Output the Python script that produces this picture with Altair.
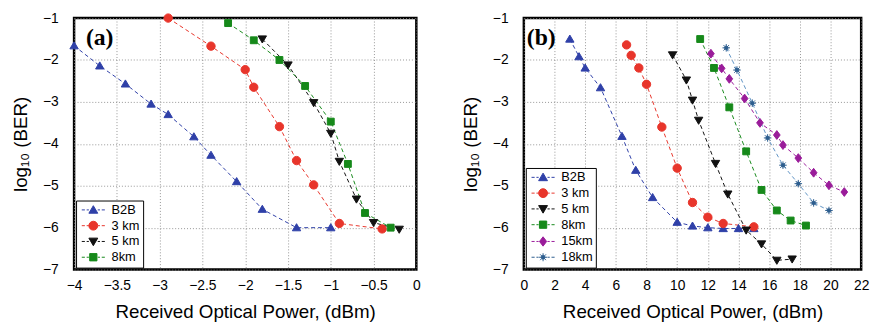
import altair as alt
import pandas as pd

# ---------------- data ----------------
series_a = ["B2B", "3 km", "5 km", "8km"]
a_b2b_x = [-4.0, -3.7, -3.4, -3.1, -2.9, -2.6, -2.4, -2.1, -1.8, -1.4, -1.0]
a_b2b_y = [-1.66, -2.14, -2.57, -3.05, -3.30, -3.83, -4.27, -4.90, -5.56, -6.00, -6.00]
a_3km_x = [-2.9, -2.4, -2.0, -1.9, -1.6, -1.4, -1.2, -0.9, -0.4]
a_3km_y = [-1.00, -1.67, -2.23, -2.65, -3.59, -4.40, -4.98, -5.90, -6.03]
a_5km_x = [-1.8, -1.5, -1.2, -1.0, -0.9, -0.7, -0.5, -0.2]
a_5km_y = [-1.50, -2.12, -3.02, -3.75, -4.42, -5.32, -5.88, -6.04]
a_8km_x = [-2.2, -1.9, -1.6, -1.3, -1.0, -0.8, -0.6, -0.3]
a_8km_y = [-1.12, -1.53, -2.00, -2.62, -3.47, -4.48, -5.65, -6.00]

series_b = ["B2B", "3 km", "5 km", "8km", "15km", "18km"]
b_b2b_x = [3.0, 3.6, 4.0, 5.0, 6.4, 7.3, 8.4, 10.0, 11.0, 12.0, 13.0, 14.0, 15.0]
b_b2b_y = [-1.50, -1.92, -2.19, -2.66, -3.82, -4.63, -5.28, -5.87, -5.96, -6.00, -6.02, -6.02, -6.02]
b_3km_x = [6.7, 7.0, 7.5, 8.0, 9.0, 10.0, 11.0, 12.0, 13.0, 15.0]
b_3km_y = [-1.64, -1.89, -2.19, -2.58, -3.60, -4.58, -5.40, -5.75, -5.90, -5.98]
b_5km_x = [9.7, 10.6, 11.0, 11.4, 12.5, 13.3, 14.5, 15.5, 16.5, 17.5]
b_5km_y = [-1.88, -2.48, -2.96, -3.44, -4.47, -5.20, -6.06, -6.39, -6.78, -6.75]
b_8km_x = [11.5, 12.4, 13.4, 14.5, 15.5, 16.5, 17.4, 18.4]
b_8km_y = [-1.50, -2.19, -3.13, -4.18, -5.10, -5.59, -5.83, -5.95]
b_15km_x = [12.2, 12.9, 13.4, 14.4, 15.4, 16.5, 16.9, 17.9, 18.9, 19.9, 20.9]
b_15km_y = [-1.85, -2.20, -2.45, -2.92, -3.50, -3.79, -4.03, -4.34, -4.69, -4.99, -5.15]
b_18km_x = [13.2, 13.9, 14.9, 15.9, 16.9, 17.9, 18.9, 19.9]
b_18km_y = [-1.71, -2.24, -3.03, -3.86, -4.51, -4.95, -5.41, -5.59]

a_xticks = [-4, -3.5, -3, -2.5, -2, -1.5, -1, -0.5, 0]
b_xticks = [0, 2, 4, 6, 8, 10, 12, 14, 16, 18, 20, 22]
yticks = [-7, -6, -5, -4, -3, -2, -1]

x_title = "Received Optical Power, (dBm)"
y_title = "log₁₀ (BER)"

# ---------------- styles ----------------
line_colors = {"B2B": "#2f40a8", "3 km": "#e8352b", "5 km": "#111111",
               "8km": "#16891a", "15km": "#9a1c9a", "18km": "#5f93c4"}
mark_colors = {"B2B": "#2f40a8", "3 km": "#e8352b", "5 km": "#111111",
               "8km": "#16891a", "15km": "#9a1c9a", "18km": "#2d5d8e"}

TRI_UP = "M0,-0.95L1,0.75L-1,0.75Z"
CIRCLE = "M1,0A1,1,0,1,1,-1,0A1,1,0,1,1,1,0Z"
TRI_DN = "M0,0.95L1,-0.75L-1,-0.75Z"
SQUARE = "M-0.82,-0.82H0.82V0.82H-0.82Z"
DIAMOND = "M0,-1.05L0.8,0L0,1.05L-0.8,0Z"
STAR = ("M-0.9,0H0.9M0,-0.9V0.9M-0.65,-0.65L0.65,0.65M-0.65,0.65L0.65,-0.65"
        "M0.4,0A0.4,0.4,0,1,1,-0.4,0A0.4,0.4,0,1,1,0.4,0Z")
shapes = {"B2B": TRI_UP, "3 km": CIRCLE, "5 km": TRI_DN, "8km": SQUARE,
          "15km": DIAMOND, "18km": STAR}
DASHES = "M-2.6,0H-1.9M-1.5,0H-1.0M1.0,0H1.5M1.9,0H2.6"

FONT = "Liberation Sans"


def make_df(names, xs, ys):
    rows = []
    for name, xv, yv in zip(names, xs, ys):
        for i, (a, b) in enumerate(zip(xv, yv)):
            rows.append({"series": name, "x": a, "y": b, "idx": i})
    return pd.DataFrame(rows)


def panel(df, names, xdom, xticks, label, w, h, label_x):
    xenc = alt.X("x:Q", scale=alt.Scale(domain=xdom, nice=False, zero=False),
                 axis=alt.Axis(values=xticks, format="~g", title=x_title,
                               labelFlush=False))
    yenc = alt.Y("y:Q", scale=alt.Scale(domain=[-7, -1], nice=False, zero=False),
                 axis=alt.Axis(values=yticks, format="d", title=y_title,
                               labelFlush=False))
    base = alt.Chart(df)
    layers = []
    for n in names:
        layers.append(
            base.transform_filter(alt.datum.series == n)
            .mark_line(color=line_colors[n], strokeWidth=1, strokeDash=[4, 3])
            .encode(x=xenc, y=yenc, order="idx:Q")
        )
    for n in names:
        layers.append(
            base.transform_filter(alt.datum.series == n)
            .mark_point(shape=shapes[n], filled=True, fill=mark_colors[n],
                        stroke=mark_colors[n], strokeWidth=1, size=72, opacity=1)
            .encode(x=xenc, y=yenc)
        )
    # legend-only layer (no rows drawn)
    dom = names
    crange = [mark_colors[n] for n in names]
    srange = [DASHES + shapes[n] for n in names]
    layers.append(
        base.transform_filter(alt.datum.series == "__none__")
        .mark_point(filled=True, opacity=1, size=72, strokeWidth=1)
        .encode(
            x=xenc, y=yenc,
            color=alt.Color("series:N", scale=alt.Scale(domain=dom, range=crange),
                            legend=alt.Legend(title=None)),
            stroke=alt.Stroke("series:N", scale=alt.Scale(domain=dom, range=crange),
                              legend=alt.Legend(title=None)),
            shape=alt.Shape("series:N", scale=alt.Scale(domain=dom, range=srange),
                            legend=alt.Legend(title=None)),
        )
    )
    lab = alt.Chart(pd.DataFrame({"t": [label]})).mark_text(
        font="Liberation Serif", fontSize=24, fontWeight="bold",
        align="left", baseline="middle", color="black"
    ).encode(text="t:N", x=alt.value(label_x), y=alt.value(20))
    layers.append(lab)
    return alt.layer(*layers).properties(width=w, height=h)


df_a = make_df(series_a, [a_b2b_x, a_3km_x, a_5km_x, a_8km_x],
               [a_b2b_y, a_3km_y, a_5km_y, a_8km_y])
df_b = make_df(series_b, [b_b2b_x, b_3km_x, b_5km_x, b_8km_x, b_15km_x, b_18km_x],
               [b_b2b_y, b_3km_y, b_5km_y, b_8km_y, b_15km_y, b_18km_y])

pa = panel(df_a, series_a, [-4, 0], a_xticks, "(a)", 347, 255, 12)
pb = panel(df_b, series_b, [0, 22], b_xticks, "(b)", 342, 255, 3)

chart = (
    alt.hconcat(pa, pb, spacing=38)
    .resolve_scale(color="independent", shape="independent", stroke="independent")
    .properties(padding={"left": 2, "top": -1, "right": 2, "bottom": 0})
    .configure_view(stroke="black", strokeWidth=2.5)
    .configure_axis(
        labelFont=FONT, labelFontSize=14, labelColor="black",
        titleFont=FONT, titleFontSize=19, titleFontWeight="normal", titleColor="black",
        grid=True, gridColor="#8a8a8a", gridDash=[1, 2], gridWidth=0.9,
        domain=False, ticks=False,
    )
    .configure_axisX(labelPadding=9, titlePadding=11)
    .configure_axisY(labelPadding=16, titlePadding=12)
    .configure_legend(
        orient="bottom-left", offset=2, padding=3, strokeColor="black",
        fillColor="white", cornerRadius=0, labelFont=FONT, labelFontSize=13,
        labelColor="black", rowPadding=2, symbolSize=81, symbolStrokeWidth=1,
        symbolOffset=8, labelOffset=12, labelLimit=200,
    )
)

chart.save("out.html", embed_options={"renderer": "svg", "actions": False})
